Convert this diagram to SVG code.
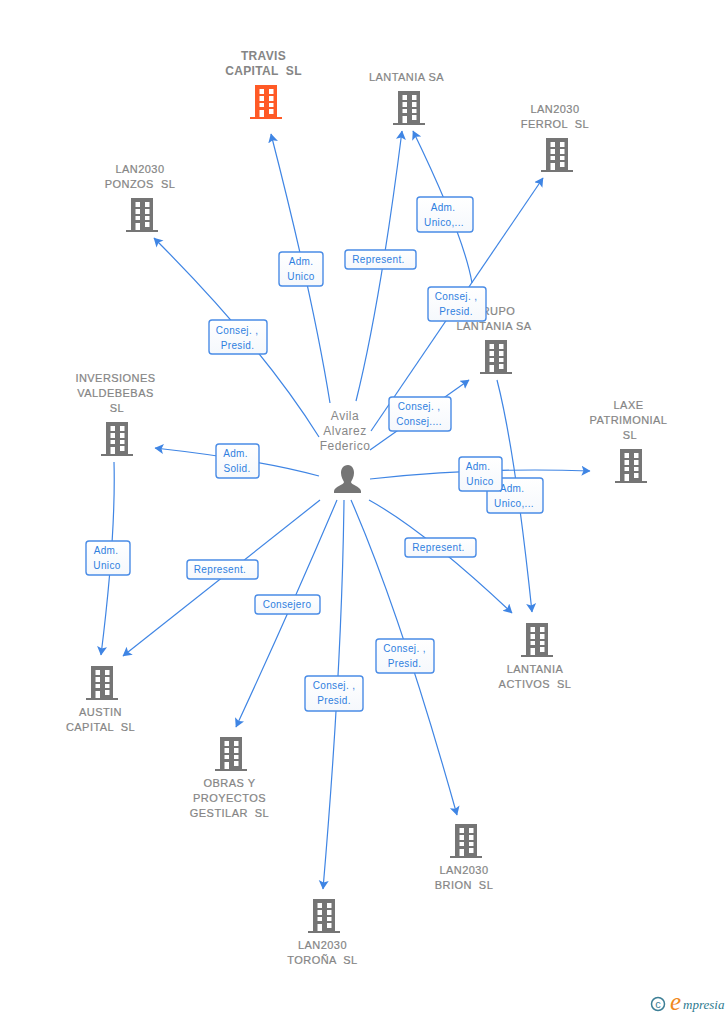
<svg xmlns="http://www.w3.org/2000/svg" width="728" height="1015" viewBox="0 0 728 1015">
<style>
.e{fill:none;stroke:#3f85e4;stroke-width:1.2;marker-end:url(#a)}
.n{font:11px "Liberation Sans",Arial,sans-serif;fill:#858585;stroke:#858585;stroke-width:.2;text-anchor:middle;letter-spacing:.45px;white-space:pre}
.t{font:bold 12px "Liberation Sans",Arial,sans-serif;fill:#858585;text-anchor:middle;letter-spacing:.35px;white-space:pre}
.p{font:12px "Liberation Sans",Arial,sans-serif;fill:#888;text-anchor:middle;letter-spacing:.5px}
.l rect{fill:url(#lg);stroke:#4a8ce6;stroke-width:1.4}
.l text{font:10px "Liberation Sans",Arial,sans-serif;fill:#2f7fdf;text-anchor:middle;letter-spacing:.35px}
.g{fill:#757575}
</style>
<defs>
<linearGradient id="lg" x1="0" y1="0" x2="0" y2="1"><stop offset="0" stop-color="#fff"/><stop offset="1" stop-color="#f5f8fc"/></linearGradient>
<marker id="a" markerUnits="userSpaceOnUse" markerWidth="12" markerHeight="12" refX="8.500" refY="5" orient="auto"><path d="M0 0L9 5L0 10L2 5Z" fill="#3f85e4"/></marker>
<symbol id="b" viewBox="0 0 32 34" width="32" height="34" overflow="visible">
<path fill="currentColor" fill-rule="evenodd" d="M5 0H27V32H32V34H0V32H5ZM9.500 4V9H14V4ZM19 4V9H23.500V4ZM9.500 11V16H14V11ZM19 11V16H23.500V11ZM9.500 18V22H14V18ZM19 18V22H23.500V18ZM9.500 25V32H14V25ZM19 24V29H23.500V24Z"/>
</symbol>
</defs>
<rect width="728" height="1015" fill="#fff"/>
<g id="travis"><text class="t" x="263.500" y="60">TRAVIS</text><text class="t" x="263.500" y="75">CAPITAL  SL</text><use href="#b" x="250" y="85" color="#ff5a26"/></g>
<g id="lantania"><text class="n" x="406.500" y="81">LANTANIA SA</text><use href="#b" x="393" y="91" color="#757575"/></g>
<g id="ferrol"><text class="n" x="555" y="113">LAN2030</text><text class="n" x="555" y="128">FERROL  SL</text><use href="#b" x="541" y="138" color="#757575"/></g>
<g id="ponzos"><text class="n" x="140" y="173">LAN2030</text><text class="n" x="140" y="188">PONZOS  SL</text><use href="#b" x="126" y="198" color="#757575"/></g>
<g id="grupo"><text class="n" x="494" y="315">GRUPO</text><text class="n" x="494" y="330">LANTANIA SA</text><use href="#b" x="480" y="340" color="#757575"/></g>
<g id="valdebebas"><text class="n" x="115.500" y="382">INVERSIONES</text><text class="n" x="115.500" y="397">VALDEBEBAS</text><text class="n" x="117" y="412">SL</text><use href="#b" x="101" y="422" color="#757575"/></g>
<g id="laxe"><text class="n" x="628.500" y="409">LAXE</text><text class="n" x="628.500" y="424">PATRIMONIAL</text><text class="n" x="630" y="439">SL</text><use href="#b" x="615" y="449" color="#757575"/></g>
<g id="activos"><use href="#b" x="521" y="623" color="#757575"/><text class="n" x="535" y="673">LANTANIA</text><text class="n" x="535" y="688">ACTIVOS  SL</text></g>
<g id="austin"><use href="#b" x="86" y="666" color="#757575"/><text class="n" x="100.500" y="716">AUSTIN</text><text class="n" x="100.500" y="731">CAPITAL  SL</text></g>
<g id="obras"><use href="#b" x="215" y="737" color="#757575"/><text class="n" x="229.500" y="787">OBRAS Y</text><text class="n" x="229.500" y="802">PROYECTOS</text><text class="n" x="229.500" y="817">GESTILAR  SL</text></g>
<g id="brion"><use href="#b" x="450" y="824" color="#757575"/><text class="n" x="464" y="874">LAN2030</text><text class="n" x="464" y="889">BRION  SL</text></g>
<g id="torona"><use href="#b" x="308" y="899" color="#757575"/><text class="n" x="322.500" y="949">LAN2030</text><text class="n" x="322.500" y="964">TOROÑA  SL</text></g>
<g id="person"><text class="p" x="345" y="420">Avila</text><text class="p" x="345" y="435">Alvarez</text><text class="p" x="345" y="450">Federico</text>
<path class="g" d="M348 465C343 465 341 469 341 473C341 477 343 480 344 482C344 485 335 486 334 491V493H361V491C360 486 351 485 351 482C352 480 354 477 354 473C354 469 352 465 348 465Z"/></g>
<g id="connectors">
<path class="e" d="M330 403Q313 297 271 134"/>
<path class="e" d="M356 401Q380 305 402 131"/>
<path class="e" d="M472 283Q464 236 413 131"/>
<path class="e" d="M371 431L543 178"/>
<path class="e" d="M319 437Q262 346 154 238"/>
<path class="e" d="M370 450L469 380"/>
<path class="e" d="M319 476Q262 460 155 448"/>
<path class="e" d="M370 479Q480 467 590 471"/>
<path class="e" d="M497 380Q515 450 532 612"/>
<path class="e" d="M369 500Q425 531 512 613"/>
<path class="e" d="M351 500Q401 615 457 815"/>
<path class="e" d="M344 500Q342 667 323 889"/>
<path class="e" d="M337 500Q292 606 236 727"/>
<path class="e" d="M320 500L123 656"/>
<path class="e" d="M114 462Q116 535 101 655"/>
</g>
<g id="labels">
<g class="l"><rect x="279" y="252" width="44" height="34" rx="3"/><text x="301" y="265">Adm.</text><text x="301" y="280">Unico</text></g>
<g class="l"><rect x="345" y="250" width="71" height="19" rx="3"/><text x="378.500" y="263">Represent.</text></g>
<g class="l"><rect x="417" y="197" width="56" height="35" rx="3"/><text x="443" y="211">Adm.</text><text x="444" y="226">Unico,...</text></g>
<g class="l"><rect x="428" y="287" width="58" height="34" rx="3"/><text x="456" y="300">Consej. ,</text><text x="456" y="315">Presid.</text></g>
<g class="l"><rect x="209" y="320" width="58" height="34" rx="3"/><text x="237" y="334">Consej. ,</text><text x="237.500" y="349">Presid.</text></g>
<g class="l"><rect x="389" y="397" width="62" height="34" rx="3"/><text x="419" y="410">Consej. ,</text><text x="419" y="425">Consej....</text></g>
<g class="l"><rect x="216" y="444" width="43" height="34" rx="3"/><text x="235.500" y="457">Adm.</text><text x="237" y="472">Solid.</text></g>
<g class="l"><rect x="487" y="478" width="56" height="35" rx="3"/><text x="512" y="492">Adm.</text><text x="514" y="507">Unico,...</text></g>
<g class="l"><rect x="459" y="457" width="43" height="34" rx="3"/><text x="478" y="470">Adm.</text><text x="480" y="485">Unico</text></g>
<g class="l"><rect x="405" y="538" width="71" height="19" rx="3"/><text x="438.500" y="551">Represent.</text></g>
<g class="l"><rect x="187" y="560" width="71" height="19" rx="3"/><text x="220" y="573">Represent.</text></g>
<g class="l"><rect x="255" y="595" width="65" height="19" rx="3"/><text x="287" y="608">Consejero</text></g>
<g class="l"><rect x="86" y="541" width="44" height="34" rx="3"/><text x="106" y="554">Adm.</text><text x="107" y="569">Unico</text></g>
<g class="l"><rect x="376" y="639" width="58" height="34" rx="3"/><text x="404.500" y="652">Consej. ,</text><text x="404.500" y="667">Presid.</text></g>
<g class="l"><rect x="305" y="676" width="58" height="35" rx="3"/><text x="334" y="689">Consej. ,</text><text x="334" y="704">Presid.</text></g>
</g>
<g id="logo"><circle cx="658" cy="1004" r="6.500" fill="none" stroke="#3d7f96" stroke-width="1.500"/><text x="658" y="1008" font-family="Liberation Sans,sans-serif" font-size="11" fill="#3d7f96" text-anchor="middle">c</text><text x="670" y="1010" font-family="Liberation Serif,serif" font-style="italic" font-size="25" fill="#f08a1d">e</text><text x="683" y="1009" font-family="Liberation Serif,serif" font-style="italic" font-size="13" fill="#2e7a8f">mpresia</text></g>
</svg>
